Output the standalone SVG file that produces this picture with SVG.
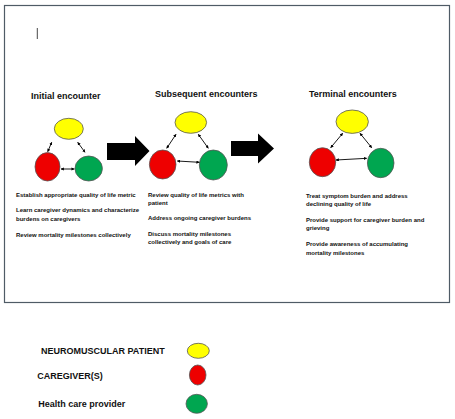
<svg xmlns="http://www.w3.org/2000/svg" width="455" height="419" viewBox="0 0 455 419">
<defs>
<marker id="ah" viewBox="0 0 10 10" refX="9" refY="5" markerWidth="3.2" markerHeight="3.2" orient="auto-start-reverse" markerUnits="userSpaceOnUse"><path d="M0,0 L10,5 L0,10 z" fill="#000"/></marker>
<style>
.t{font-family:"Liberation Sans",Arial,sans-serif;font-weight:bold;fill:#111}
.h{font-size:9px}
.b{font-size:6px}
.l{font-size:9px}
.y{fill:#ffff00;stroke:#555;stroke-width:0.8}
.r{fill:#ee0000;stroke:#555;stroke-width:0.8}
.g{fill:#00a650;stroke:#555;stroke-width:0.8}
.c{stroke:#000;stroke-width:0.9;fill:none;marker-start:url(#ah);marker-end:url(#ah)}
.big{fill:#000}
</style>
</defs>
<rect width="455" height="419" fill="#fff"/>
<rect x="4.5" y="5.5" width="445" height="297" fill="#fff" stroke="#4f5b66" stroke-width="1.2"/>
<line x1="37.3" y1="28" x2="37.3" y2="39" stroke="#333" stroke-width="0.9"/>

<g id="initial">
<text class="t h" x="31" y="99">Initial encounter</text>
<ellipse class="y" cx="68.8" cy="128.8" rx="14.5" ry="10.5"/>
<ellipse class="r" cx="47.5" cy="166.8" rx="12.5" ry="14.2"/>
<ellipse class="g" cx="88.7" cy="168.5" rx="13.7" ry="12.5"/>
<text class="t b" x="16" y="197">Establish appropriate quality of life metric</text>
<text class="t b" x="16" y="212">Learn caregiver dynamics and characterize</text>
<text class="t b" x="16" y="221">burdens on caregivers</text>
<text class="t b" x="16" y="237">Review mortality milestones collectively</text>
</g>

<g id="subsequent">
<text class="t h" x="155" y="97">Subsequent encounters</text>
<ellipse class="y" cx="190.8" cy="122.5" rx="15.8" ry="10.8"/>
<ellipse class="r" cx="162.7" cy="164.5" rx="13.3" ry="14.5"/>
<ellipse class="g" cx="213.3" cy="165" rx="14" ry="15"/>
<text class="t b" x="148" y="197">Review quality of life metrics with</text>
<text class="t b" x="148" y="205.3">patient</text>
<text class="t b" x="148" y="220.3">Address ongoing caregiver burdens</text>
<text class="t b" x="148" y="236.3">Discuss mortality milestones</text>
<text class="t b" x="148" y="244.3">collectively and goals of care</text>
</g>

<g id="terminal">
<text class="t h" x="309" y="96.5">Terminal encounters</text>
<ellipse class="y" cx="352.2" cy="121.7" rx="16.2" ry="11.7"/>
<ellipse class="r" cx="322.5" cy="162.2" rx="13.2" ry="14.5"/>
<ellipse class="g" cx="380.7" cy="163" rx="13.3" ry="14.7"/>
<text class="t b" x="306" y="198">Treat symptom burden and address</text>
<text class="t b" x="306" y="206">declining quality of life</text>
<text class="t b" x="306" y="222">Provide support for caregiver burden and</text>
<text class="t b" x="306" y="230.3">grieving</text>
<text class="t b" x="306" y="246.3">Provide awareness of accumulating</text>
<text class="t b" x="306" y="254.7">mortality milestones</text>
</g>

<g id="connectors">
<line class="c" x1="51.7" y1="142.3" x2="47.7" y2="151.7"/>
<line class="c" x1="77.7" y1="142.3" x2="85" y2="152.3"/>
<line class="c" x1="61" y1="169" x2="74.3" y2="169"/>
<line class="c" x1="176" y1="134.3" x2="166.7" y2="148.3"/>
<line class="c" x1="198.3" y1="134.3" x2="208.3" y2="148.3"/>
<line class="c" x1="177.3" y1="161" x2="199.3" y2="162.3"/>
<line class="c" x1="342.7" y1="133.3" x2="330.7" y2="147.7"/>
<line class="c" x1="360" y1="133.3" x2="371.7" y2="147.7"/>
<line class="c" x1="336" y1="160" x2="366.7" y2="158.3"/>
<polygon class="big" points="107,143 135,143 135,136 149.5,151 135,166 135,160 107,160"/>
<polygon class="big" points="231,141 258,141 258,133.5 274,148.5 258,163.5 258,156 231,156"/>
</g>

<g id="legend-patient">
<text class="t l" x="41" y="354">NEUROMUSCULAR PATIENT</text>
<ellipse class="y" cx="198.3" cy="350.8" rx="11" ry="7.5"/>
</g>
<g id="legend-caregiver">
<text class="t l" x="37.3" y="379">CAREGIVER(S)</text>
<ellipse class="r" cx="197.7" cy="375" rx="8.3" ry="10"/>
</g>
<g id="legend-provider">
<text class="t l" x="38.3" y="407">Health care provider</text>
<ellipse class="g" cx="196.7" cy="403.8" rx="10.7" ry="9.5"/>
</g>
</svg>
